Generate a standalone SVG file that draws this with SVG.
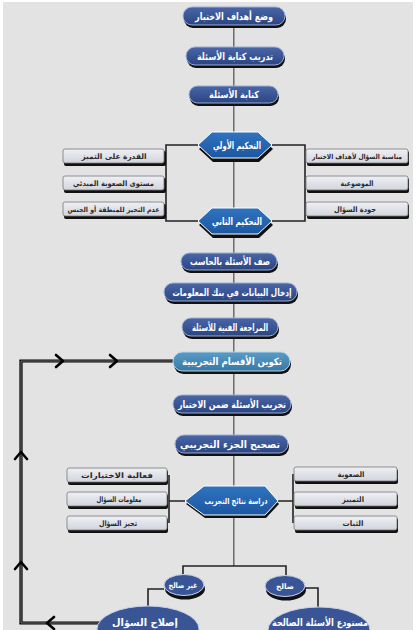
<svg xmlns="http://www.w3.org/2000/svg" width="416" height="630" viewBox="0 0 416 630">
<defs>
<linearGradient id="gPill" x1="0" y1="0" x2="0" y2="1">
<stop offset="0" stop-color="#4a66a6"/><stop offset="1" stop-color="#2b4582"/>
</linearGradient>
<linearGradient id="gTeal" x1="0" y1="0" x2="0" y2="1">
<stop offset="0" stop-color="#5a9cc6"/><stop offset="1" stop-color="#3878a6"/>
</linearGradient>
<linearGradient id="gHex" x1="0" y1="0" x2="0" y2="1">
<stop offset="0" stop-color="#2f74c0"/><stop offset="1" stop-color="#1d56a0"/>
</linearGradient>
<linearGradient id="gBox" x1="0" y1="0" x2="0" y2="1">
<stop offset="0" stop-color="#eef0f4"/><stop offset="1" stop-color="#d3d5dd"/>
</linearGradient>
<path id="chev" d="M-7,-6 L0,0 L-7,6" fill="none" stroke="#000" stroke-width="2.6" stroke-linecap="round" stroke-linejoin="round"/>
</defs>
<style>
.pill{fill:url(#gPill);stroke:#9aaed4;stroke-width:1}
.teal{fill:url(#gTeal);stroke:#b8d6ea;stroke-width:1}
.sh{fill:#111}
.hex{fill:url(#gHex);stroke:#ffffff;stroke-width:1}
.box{fill:url(#gBox);stroke:#777;stroke-width:0.8}
.bsh{fill:#111}
.el{fill:#3a5595;stroke:#c7d2ea;stroke-width:1}
.wt{font-family:"DejaVu Sans",sans-serif;font-weight:bold;font-size:10px;fill:#fff;text-anchor:middle}
.bt{font-family:"DejaVu Sans",sans-serif;font-weight:bold;font-size:7.5px;fill:#2a2a2a;text-anchor:middle}
.ln{fill:none;stroke:#6e6e6e;stroke-width:2}
.lnh{fill:none;stroke:#bdbdbd;stroke-width:0.7}
.br{fill:none;stroke:#222;stroke-width:1.6}
.fb{fill:none;stroke:#000;stroke-width:3.2}
.fbh{fill:none;stroke:#9a9a9a;stroke-width:0.8}
</style>
<rect x="0" y="0" width="416" height="630" fill="#ffffff"/>
<rect x="3" y="2" width="410" height="628" fill="#e3e3e3"/>

<g id="connectors">
<path class="ln" d="M234,16 V566"/>
<path class="lnh" d="M234.5,16 V566"/>
<path class="br" d="M198,145 H166 V221 H198"/>
<path class="br" d="M272,145 H305 V221 H272"/>
<path class="br" d="M185,501 H169 M169,475 V523"/>
<path class="br" d="M278,501 H293 M293,474 V523"/>
<path class="br" d="M183,577 V566 H286 V577"/>
<path class="br" d="M305,588 H318 V608"/>
<path class="br" d="M164,589 H148 V606"/>
<path class="fb" d="M173,361 H21 V623 H100"/>
<path class="fbh" d="M173,361 H21 V623 H100"/>
<use href="#chev" x="63" y="361"/>
<use href="#chev" x="117" y="361"/>
<use href="#chev" transform="translate(21,452) rotate(-90)"/>
<use href="#chev" transform="translate(21,562) rotate(-90)"/>
<use href="#chev" transform="translate(47,623) rotate(180)"/>
</g>

<g id="n1"><rect class="sh" x="184" y="10" width="102" height="18" rx="9"/><rect class="pill" x="183" y="7" width="102" height="18" rx="9"/><text class="wt" x="234" y="19.5" textLength="78" lengthAdjust="spacingAndGlyphs">وضع أهداف الاختبار</text></g>
<g id="n2"><rect class="sh" x="187" y="50" width="98" height="18" rx="9"/><rect class="pill" x="186" y="47" width="98" height="18" rx="9"/><text class="wt" x="235" y="59.5" textLength="76" lengthAdjust="spacingAndGlyphs">تدريب كتابة الأسئلة</text></g>
<g id="n3"><rect class="sh" x="190" y="89" width="89" height="17" rx="8.5"/><rect class="pill" x="189" y="86" width="89" height="17" rx="8.5"/><text class="wt" x="234" y="98" textLength="50" lengthAdjust="spacingAndGlyphs">كتابة الأسئلة</text></g>

<g id="h1"><polygon class="sh" points="199,149 213,136 259,136 273,149 259,162 213,162"/><polygon class="hex" points="198,145 212,132 258,132 272,145 258,158 212,158"/><text class="wt" x="237" y="148.5" textLength="48" lengthAdjust="spacingAndGlyphs">التحكيم الأولي</text></g>
<g id="h2"><polygon class="sh" points="199,225 213,212 259,212 273,225 259,238 213,238"/><polygon class="hex" points="198,221 212,208 258,208 272,221 258,234 212,234"/><text class="wt" x="237" y="224.5" textLength="50" lengthAdjust="spacingAndGlyphs">التحكيم الثاني</text></g>

<g id="b1"><rect class="bsh" x="64" y="151" width="102" height="15" rx="2"/><rect class="box" x="63" y="149" width="101" height="14" rx="2"/><text class="bt" x="114" y="159" textLength="65" lengthAdjust="spacingAndGlyphs">القدرة على التميز</text></g>
<g id="b2"><rect class="bsh" x="64" y="178" width="102" height="15" rx="2"/><rect class="box" x="63" y="176" width="101" height="14" rx="2"/><text class="bt" x="113.5" y="186" textLength="81" lengthAdjust="spacingAndGlyphs">مستوى الصعوبة المبدئي</text></g>
<g id="b3"><rect class="bsh" x="64" y="204" width="102" height="15" rx="2"/><rect class="box" x="63" y="202" width="101" height="14" rx="2"/><text class="bt" x="113.5" y="212" style="font-size:7px" textLength="92" lengthAdjust="spacingAndGlyphs">عدم التحيز للمنطقة أو الجنس</text></g>
<g id="b4"><rect class="bsh" x="307" y="151" width="102" height="15" rx="2"/><rect class="box" x="306" y="149" width="102" height="14" rx="2"/><text class="bt" x="357" y="159" style="font-size:6.8px" textLength="90" lengthAdjust="spacingAndGlyphs">مناسبة السؤال لأهداف الاختبار</text></g>
<g id="b5"><rect class="bsh" x="307" y="178" width="102" height="15" rx="2"/><rect class="box" x="306" y="176" width="102" height="14" rx="2"/><text class="bt" x="357" y="186" textLength="33" lengthAdjust="spacingAndGlyphs">الموضوعية</text></g>
<g id="b6"><rect class="bsh" x="307" y="204" width="102" height="15" rx="2"/><rect class="box" x="306" y="202" width="102" height="14" rx="2"/><text class="bt" x="355" y="212" textLength="42" lengthAdjust="spacingAndGlyphs">جودة السؤال</text></g>

<g id="n6"><rect class="sh" x="182" y="256" width="96" height="17" rx="8.5"/><rect class="pill" x="181" y="253" width="96" height="17" rx="8.5"/><text class="wt" x="230" y="265" textLength="80" lengthAdjust="spacingAndGlyphs">صف الأسئلة بالحاسب</text></g>
<g id="n7"><rect class="sh" x="165" y="286" width="133" height="18" rx="9"/><rect class="pill" x="164" y="283" width="133" height="18" rx="9"/><text class="wt" x="232" y="295.5" textLength="119" lengthAdjust="spacingAndGlyphs">إدخال البيانات في بنك المعلومات</text></g>
<g id="n8"><rect class="sh" x="183" y="321" width="96" height="18" rx="9"/><rect class="pill" x="182" y="318" width="96" height="18" rx="9"/><text class="wt" x="230" y="330.5" textLength="76" lengthAdjust="spacingAndGlyphs">المراجعة الفنية للأسئلة</text></g>
<g id="n9"><rect class="sh" x="174" y="355" width="117" height="19" rx="9.5"/><rect class="teal" x="173" y="352" width="117" height="19" rx="9.5"/><text class="wt" x="232" y="365" textLength="100" lengthAdjust="spacingAndGlyphs">تكوين الأقسام التجريبية</text></g>
<g id="n10"><rect class="sh" x="174" y="398" width="118" height="18" rx="9"/><rect class="pill" x="173" y="395" width="118" height="18" rx="9"/><text class="wt" x="232" y="407.5" textLength="108" lengthAdjust="spacingAndGlyphs">تجريب الأسئلة ضمن الاختبار</text></g>
<g id="n11"><rect class="sh" x="176" y="438" width="113" height="18" rx="9"/><rect class="pill" x="175" y="435" width="113" height="18" rx="9"/><text class="wt" x="230" y="447.5" textLength="100" lengthAdjust="spacingAndGlyphs">تصحيح الجزء التجريبي</text></g>

<g id="h3"><polygon class="sh" points="186,504 205,489 266,489 279,504 266,518 205,518"/><polygon class="hex" points="185,501 204,486 265,486 278,501 265,515 204,515"/><text class="wt" x="236" y="504" style="font-size:8.5px" textLength="63" lengthAdjust="spacingAndGlyphs">دراسة نتائج التجريب</text></g>

<g id="b7"><rect class="bsh" x="68" y="470" width="100" height="15" rx="2"/><rect class="box" x="67" y="468" width="100" height="14" rx="2"/><text class="bt" x="117" y="478" textLength="72" lengthAdjust="spacingAndGlyphs">فعالية الاختيارات</text></g>
<g id="b8"><rect class="bsh" x="68" y="494" width="100" height="15" rx="2"/><rect class="box" x="67" y="492" width="100" height="14" rx="2"/><text class="bt" x="119" y="502" textLength="45" lengthAdjust="spacingAndGlyphs">معلومات السؤال</text></g>
<g id="b9"><rect class="bsh" x="68" y="518" width="100" height="15" rx="2"/><rect class="box" x="67" y="516" width="100" height="14" rx="2"/><text class="bt" x="118" y="526" textLength="38" lengthAdjust="spacingAndGlyphs">تحيز السؤال</text></g>
<g id="b10"><rect class="bsh" x="295" y="469" width="103" height="15" rx="2"/><rect class="box" x="294" y="467" width="103" height="14" rx="2"/><text class="bt" x="351" y="477" textLength="27" lengthAdjust="spacingAndGlyphs">الصعوبة</text></g>
<g id="b11"><rect class="bsh" x="295" y="494" width="103" height="15" rx="2"/><rect class="box" x="294" y="492" width="103" height="14" rx="2"/><text class="bt" x="353" y="502" textLength="22" lengthAdjust="spacingAndGlyphs">التمييز</text></g>
<g id="b12"><rect class="bsh" x="295" y="518" width="103" height="15" rx="2"/><rect class="box" x="294" y="516" width="103" height="14" rx="2"/><text class="bt" x="353" y="526" textLength="21" lengthAdjust="spacingAndGlyphs">الثبات</text></g>

<g id="e1"><ellipse class="sh" cx="185" cy="589" rx="20" ry="10.5"/><ellipse class="el" cx="184" cy="585" rx="20" ry="10.5"/><text class="wt" x="183" y="588" style="font-size:7.5px" textLength="29" lengthAdjust="spacingAndGlyphs">غير صالح</text></g>
<g id="e2"><ellipse class="sh" cx="286" cy="590" rx="20" ry="10.5"/><ellipse class="el" cx="285" cy="586" rx="20" ry="10.5"/><text class="wt" x="285" y="589" style="font-size:7.5px" textLength="18" lengthAdjust="spacingAndGlyphs">صالح</text></g>
<g id="e3"><ellipse class="el" cx="148" cy="629" rx="51" ry="23"/><text class="wt" x="145" y="626" textLength="66" lengthAdjust="spacingAndGlyphs">إصلاح السؤال</text></g>
<g id="e4"><ellipse class="el" cx="319" cy="630" rx="51" ry="23"/><text class="wt" x="320" y="626" textLength="96" lengthAdjust="spacingAndGlyphs">مستودع الأسئلة الصالحة</text></g>
</svg>
